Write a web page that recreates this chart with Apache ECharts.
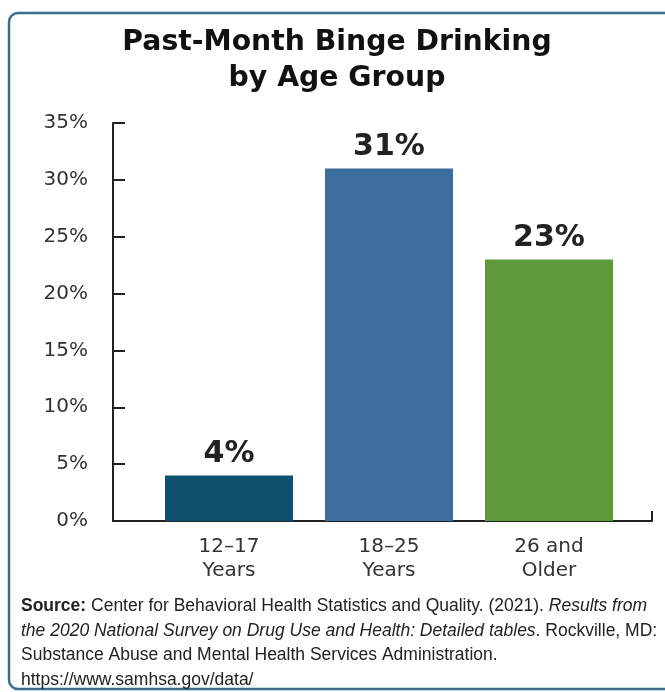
<!DOCTYPE html>
<html>
<head>
<meta charset="utf-8">
<script src="https://cdn.jsdelivr.net/npm/echarts@6/dist/echarts.min.js"></script>
<style>
html,body{margin:0;padding:0;background:#fff;}
#c{width:665px;height:692px;}
</style>
</head>
<body>
<div id="c"></div>
<script>
// Data
const categories = ['12\u201317\nYears', '18\u201325\nYears', '26 and\nOlder'];
const values = [4, 31, 23];
const barColors = ['#12506f', '#3b6e9c', '#5e9a3b'];
const yTicks = [0, 5, 10, 15, 20, 25, 30, 35];
const titleText = 'Past-Month Binge Drinking\nby Age Group';
const sourceLines = [
  '{b|Source:} Center for Behavioral Health Statistics and Quality. (2021). {i|Results from}',
  '{i|the 2020 National Survey on Drug Use and Health: Detailed tables}. Rockville, MD:',
  'Substance Abuse and Mental Health Services Administration.',
  'https://www.samhsa.gov/data/'
];

const xMin = -0.725, xMax = 2.64375;
const chart = echarts.init(document.getElementById('c'), null, {renderer: 'canvas'});
const srcFont = "'Liberation Sans', Arial, sans-serif";
const wideFont = "'DejaVu Sans', 'Liberation Sans', Arial, sans-serif";

chart.setOption({
  backgroundColor: '#ffffff',
  animation: false,
  title: [{
    text: titleText,
    left: 337,
    top: 25,
    padding: 0,
    textAlign: 'center',
    textStyle: {fontFamily: wideFont, fontWeight: 'bold', fontSize: 28.3, lineHeight: 36, color: '#111'}
  }, {
    text: sourceLines.join('\n'),
    left: 21,
    top: 594,
    padding: 0,
    textStyle: {
      fontFamily: srcFont, fontWeight: 'normal', fontSize: 17.5, lineHeight: 24.5, color: '#222',
      rich: {
        b: {fontFamily: srcFont, fontWeight: 'bold', fontSize: 17.5, lineHeight: 24.5, color: '#222'},
        i: {fontFamily: srcFont, fontStyle: 'italic', fontSize: 17.5, lineHeight: 24.5, color: '#222'}
      }
    }
  }],
  graphic: [{
    type: 'rect',
    shape: {x: 9, y: 13, width: 680, height: 676, r: 9},
    style: {fill: 'none', stroke: '#3a6e8c', lineWidth: 2.5},
    silent: true, z: -1
  }],
  grid: {left: 113, right: 13, top: 123, bottom: 171},
  xAxis: {
    type: 'value',
    min: xMin,
    max: xMax,
    splitLine: {show: false},
    axisLine: {show: true, onZero: false, lineStyle: {color: '#222', width: 2}},
    axisTick: {show: true, inside: true, length: 10, customValues: [xMax], lineStyle: {color: '#222', width: 2}},
    axisLabel: {
      customValues: [0, 1, 2],
      formatter: v => categories[Math.round(v)],
      fontFamily: wideFont,
      fontSize: 20, lineHeight: 24, color: '#333', margin: 14
    }
  },
  yAxis: {
    type: 'value',
    min: 0, max: 35, interval: 5,
    splitLine: {show: false},
    axisLine: {show: true, onZero: false, lineStyle: {color: '#222', width: 2}},
    axisTick: {show: true, inside: true, length: 12, lineStyle: {color: '#222', width: 2}},
    axisLabel: {
      formatter: v => yTicks.includes(v) ? v + '%' : '',
      fontFamily: wideFont,
      fontSize: 20, color: '#333', margin: 25
    }
  },
  series: [{
    type: 'bar',
    barWidth: 128,
    data: values.map((v, i) => ({value: [i, v], itemStyle: {color: barColors[i]}})),
    label: {
      show: true, position: 'top', distance: 6,
      formatter: p => p.value[1] + '%',
      fontFamily: wideFont,
      fontWeight: 'bold', fontSize: 30, color: '#222'
    }
  }]
});
</script>
</body>
</html>
